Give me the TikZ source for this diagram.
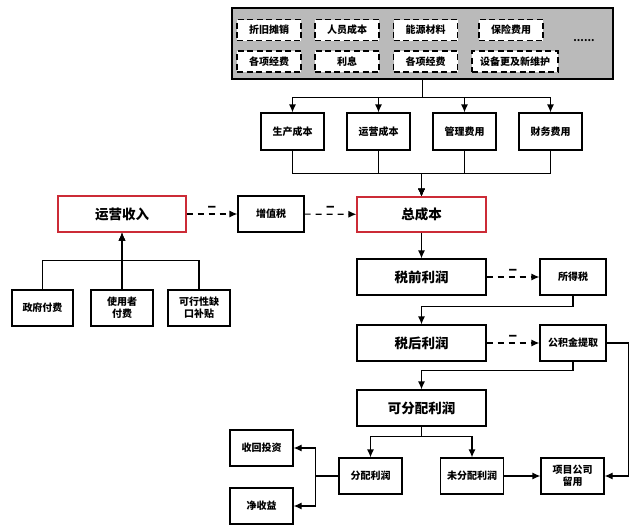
\documentclass[tikz,border=0pt]{standalone}
\usepackage{fontspec}
\setmainfont{Noto Sans CJK SC}
\usepackage{xcolor}
\definecolor{mauxam}{HTML}{BABABA}
\definecolor{maudo}{HTML}{CC2B36}
\def\maunen{mauxam}
\def\mauvien{maudo}
\usepackage{tikz}
\usetikzlibrary{calc,positioning,arrows.meta}

\begin{document}
\begin{tikzpicture}[x=1pt,y=-1pt]
		\tikzstyle{hop} = [draw,line width=1.2pt,fill=white,inner sep=1pt,minimum width=63pt,minimum height=36pt,font=\bfseries\fontsize{10}{12}\selectfont,align=center]
		\tikzstyle{hoplon} = [hop,minimum width=129pt,font=\bfseries\fontsize{13.5}{15}\selectfont]
		\tikzstyle{hopdo} = [hoplon,draw=\mauvien]
		\tikzstyle{hopgach} = [draw,dash pattern=on 6pt off 3.5pt,line width=1.2pt,fill=white,minimum width=64pt,minimum height=21pt,inner sep=1pt,font=\bfseries\fontsize{10}{12}\selectfont]
		\tikzstyle{muiten} = [-{Latex[length=8pt,width=7pt]},line width=1.2pt]
		\tikzstyle{muitengach} = [muiten,dash pattern=on 6pt off 5pt]
		\tikzstyle{dautru} = [above=0pt,inner sep=1pt,font=\bfseries\fontsize{14}{14}\selectfont]
		\useasboundingbox (0,0) rectangle (640,530);
		% khoi chi phi
		\node[draw,line width=1.2pt,fill=\maunen,minimum width=381pt,minimum height=71pt] (chiphi) at (422.5,43.5) {};
		\node[hopgach] (ztx) at (269,30) {折旧摊销};
		\node[hopgach] (rycb) at (347,30) {人员成本};
		\node[hopgach] (nycl) at (425.5,30) {能源材料};
		\node[hopgach] (bxfy) at (511,30) {保险费用};
		\node[hopgach] (gxjf) at (269,61.5) {各项经费};
		\node[hopgach] (lixi) at (347,61.5) {利息};
		\node[hopgach] (gxjf2) at (425.5,61.5) {各项经费};
		\node[hopgach,minimum width=86pt] (sbgx) at (515,61.5) {设备更及新维护};
		\node[font=\bfseries\fontsize{10}{12}\selectfont] (cham) at (584,41) {......};
		% bon loai chi phi
		\node[hop,minimum height=37pt] (sccb) at (292.5,131.5) {生产成本};
		\node[hop,minimum height=37pt] (yycb) at (378.5,131.5) {运营成本};
		\node[hop,minimum height=37pt] (glfy) at (464.5,131.5) {管理费用};
		\node[hop,minimum height=37pt] (cwfy) at (550.5,131.5) {财务费用};
		\foreach \n in {sccb,yycb,glfy,cwfy}{
			\draw[muiten] (chiphi.south) -- ++(0,18) -| (\n.north);
			\draw[muiten] (\n.south) -- ++(0,23) -| ($(chiphi.south)+(-1,117)$);
		}
		% cot giua
		\node[hopdo,minimum height=35pt] (zcb) at (421.5,214.5) {总成本};
		\node[hoplon] (sqlr) at (421.5,277) {税前利润};
		\node[hop,minimum width=66pt] (sds) at (573,277) {所得税};
		\node[hoplon] (shlr) at (421.5,343) {税后利润};
		\node[hop,minimum width=66pt] (gjj) at (573,343) {公积金提取};
		\node[hoplon] (kfp) at (421.5,408) {可分配利润};
		\node[hop] (fplr) at (370.5,476) {分配利润};
		\node[hop] (wfp) at (472,476) {未分配利润};
		\node[hop] (xmgs) at (572.5,476) {项目公司\\留用};
		\node[hop] (shtz) at (261.5,448) {收回投资};
		\node[hop] (jsy) at (261.5,506) {净收益};
		\draw[muiten] (zcb) -- (sqlr);
		\draw[muitengach] (sqlr) -- node[dautru] {−} (sds);
		\draw[muiten] (sds.south) -- ++(0,11) -| (shlr.north);
		\draw[muitengach] (shlr) -- node[dautru] {−} (gjj);
		\draw[muiten] (gjj.south) -- ++(0,9) -| (kfp.north);
		\draw[muiten] (kfp.south) -- ++(0,10) -| (fplr.north);
		\draw[muiten] (kfp.south) -- ++(0,10) -| (wfp.north);
		\draw[muiten] (wfp) -- (xmgs);
		\draw[muiten] (gjj.east) -- ++(22,0) |- (xmgs.east);
		\draw[muiten] (fplr.west) -- ++(-23,0) |- (shtz.east);
		\draw[muiten] (fplr.west) -- ++(-23,0) |- (jsy.east);
		% thu nhap
		\node[hopdo,minimum width=128pt] (yysr) at (122,214) {运营收入};
		\node[hop,minimum width=66pt] (zzs) at (271,214) {增值税};
		\node[hop,minimum width=61pt] (zfff) at (42.5,308) {政府付费};
		\node[hop,minimum width=62pt] (syz) at (122,308) {使用者\\付费};
		\node[hop,minimum width=62pt] (kxx) at (199,308) {可行性缺\\口补贴};
		\draw[muitengach] (yysr) -- node[dautru] {−} (zzs);
		\draw[muitengach] (zzs) -- node[dautru] {−} (zcb);
		\draw[muiten] (zfff.north) -- ++(0,-29) -| (yysr.south);
		\draw[muiten] (kxx.north) -- ++(0,-29) -| (yysr.south);
		\draw[muiten] (syz) -- (yysr);
\end{tikzpicture}
\end{document}
